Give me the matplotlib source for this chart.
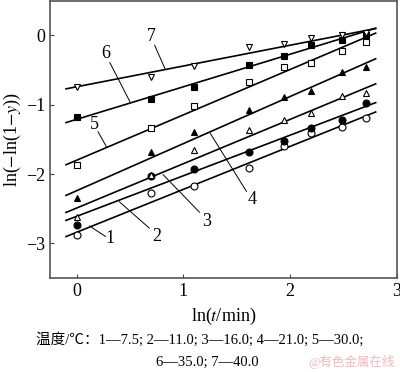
import numpy as np
import matplotlib
matplotlib.use("Agg")
import matplotlib.pyplot as plt

plt.rcParams['font.family'] = ['Liberation Serif', 'Noto Sans CJK SC']
plt.rcParams['mathtext.fontset'] = 'stix'

# x: ln(t/min), t = 1,2,3,5,7,9,12,15 min
t_min = [1, 2, 3, 5, 7, 9, 12, 15]
series_labels = ["1", "2", "3", "4", "5", "6", "7"]
y1 = [-2.88, -2.28, -2.17, -1.91, -1.60, -1.41, -1.32, -1.19]
y2 = [-2.74, -2.03, -1.92, -1.68, -1.52, -1.33, -1.22, -0.98]
y3 = [-2.62, -2.02, -1.65, -1.37, -1.22, -1.12, -0.87, -0.83]
y4 = [-2.34, -1.68, -1.39, -1.08, -0.89, -0.80, -0.53, -0.46]
y5 = [-1.87, -1.33, -1.02, -0.67, -0.46, -0.40, -0.22, -0.10]
y6 = [-1.18, -0.92, -0.75, -0.42, -0.30, -0.13, -0.06, 0.00]
y7 = [-0.75, -0.60, -0.44, -0.17, -0.12, -0.03, 0.01, 0.03]
# fitted lines: intercept at x=0, slope
fit_intercept = [-2.84, -2.61, -2.49, -2.24, -1.80, -1.21, -0.74]
fit_slope = [0.62, 0.586, 0.64, 0.68, 0.655, 0.47, 0.30]
line_x_range = [-0.1, 2.8]

ys = [y1, y2, y3, y4, y5, y6, y7]
markers = ['o', 'o', '^', '^', 's', 's', 'v']
filled = [False, True, False, True, False, True, False]

# label text position and leader line (data coords)
label_pos = [(0.31, -2.93), (0.75, -2.90), (1.22, -2.68), (1.64, -2.37),
             (0.17, -1.28), (0.27, -0.26), (0.70, -0.01)]
leader = [((0.12, -2.75), (0.27, -2.90)),
          ((0.40, -2.40), (0.68, -2.78)),
          ((0.81, -2.01), (1.15, -2.55)),
          ((1.25, -1.41), (1.59, -2.25)),
          ((0.20, -1.39), (0.28, -1.61)),
          ((0.31, -0.39), (0.50, -0.96)),
          ((0.73, -0.14), (0.83, -0.49))]

fig = plt.figure(figsize=(4.0, 3.72), dpi=100)
ax = fig.add_axes([0.125, 0.2527, 0.8675, 0.745])

x = np.log(t_min)
xl = np.array(line_x_range)
for i in range(7):
    ax.plot(xl, fit_intercept[i] + fit_slope[i] * xl, color='black', lw=1.2, zorder=2)
    ax.plot(x, ys[i], linestyle='none', marker=markers[i], markersize=5,
            markerfacecolor='black' if filled[i] else 'white',
            markeredgecolor='black', markeredgewidth=0.8, zorder=3)
    (ax0, ay0), (ax1, ay1) = leader[i]
    ax.plot([ax0, ax1], [ay0, ay1], color='black', lw=0.7, zorder=2)
    ax.text(label_pos[i][0], label_pos[i][1], series_labels[i], fontsize=13,
            ha='center', va='center')

ax.set_xlim(-0.25, 3.0)
ax.set_ylim(-3.5, 0.5)
ax.set_xticks([0, 1, 2, 3])
ax.set_yticks([0, -1, -2, -3])
ax.set_yticklabels(['0', '\u22121', '\u22122', '\u22123'])
ax.tick_params(direction='in', length=3, width=0.8, labelsize=13, color='#444444')
for s in ax.spines.values():
    s.set_color('#555555')
    s.set_linewidth(1.2)

ax.set_xlabel(r'ln($\mathit{t}$/min)', fontsize=13, labelpad=4)
ax.set_ylabel(r'ln($-$ln(1$-$$\mathit{y}$))', fontsize=13, labelpad=2)

fig.text(0.5, 0.086, '温度/℃：1—7.5; 2—11.0; 3—16.0; 4—21.0; 5—30.0;',
         ha='center', va='center', fontsize=10.5)
fig.text(0.518, 0.027, '6—35.0; 7—40.0', ha='center', va='center', fontsize=10.5)
fig.text(0.88, 0.027, '@有色金属在线', ha='center', va='center', fontsize=9,
         color='#f2b8b8')

fig.savefig('out.png', dpi=100)
